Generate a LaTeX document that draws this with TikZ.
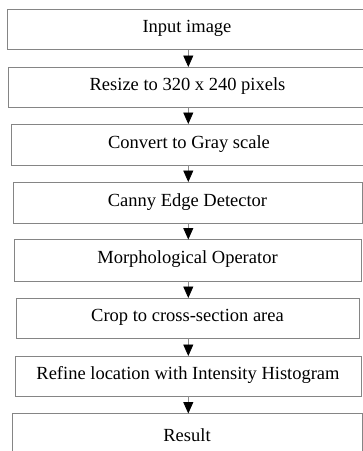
\documentclass[tikz,border=0pt]{standalone}
\usepackage{fontspec}
\setmainfont{Liberation Serif}
\usetikzlibrary{arrows.meta}

\tikzset{
  stage/.style={draw=black!48, line width=1pt, fill=white, inner sep=0pt, outer sep=0pt,
    font=\fontsize{18.5}{22}\selectfont, text height=12pt, text depth=5pt},
  flow/.style={draw=black!45, line width=0.8pt,
    -{Triangle[width=10pt,length=11.5pt,black]}, shorten >=0pt}
}

% stage box from its left, top, right and bottom edges (y grows downwards)
\newcommand\stagebox[6]{%
  \node[stage, minimum width={(#4)-(#2)}, minimum height={(#5)-(#3)}]
    (#1) at ({((#2)+(#4))/2},{((#3)+(#5))/2}) {#6};}

\begin{document}
\begin{tikzpicture}[x=1pt, y=-1pt]
  \useasboundingbox (0,0) rectangle (363,451);
  \clip (0,0) rectangle (363,451);

  \stagebox{s1}{7}{9}{367}{49.5}{Input image}
  \stagebox{s2}{8}{67}{367}{107.5}{Resize to 320 x 240 pixels}
  \stagebox{s3}{11}{124}{367}{165}{Convert to Gray scale}
  \stagebox{s4}{13}{182}{362}{223}{Canny Edge Detector}
  \stagebox{s5}{14}{239.5}{361}{281}{Morphological Operator}
  \stagebox{s6}{16}{298}{359}{338}{Crop to cross-section area}
  \stagebox{s7}{15}{356}{361}{396}{Refine location with Intensity Histogram}
  \stagebox{s8}{12}{413.5}{362}{462}{Result}

  % vertical axis carrying the arrows
  \coordinate (spine) at (188.3,0);

  \foreach \a/\b in {s1/s2,s2/s3,s3/s4,s4/s5,s5/s6,s6/s7,s7/s8}
    \draw[flow] (\a.south -| spine) -- (\b.north -| spine);
\end{tikzpicture}
\end{document}
